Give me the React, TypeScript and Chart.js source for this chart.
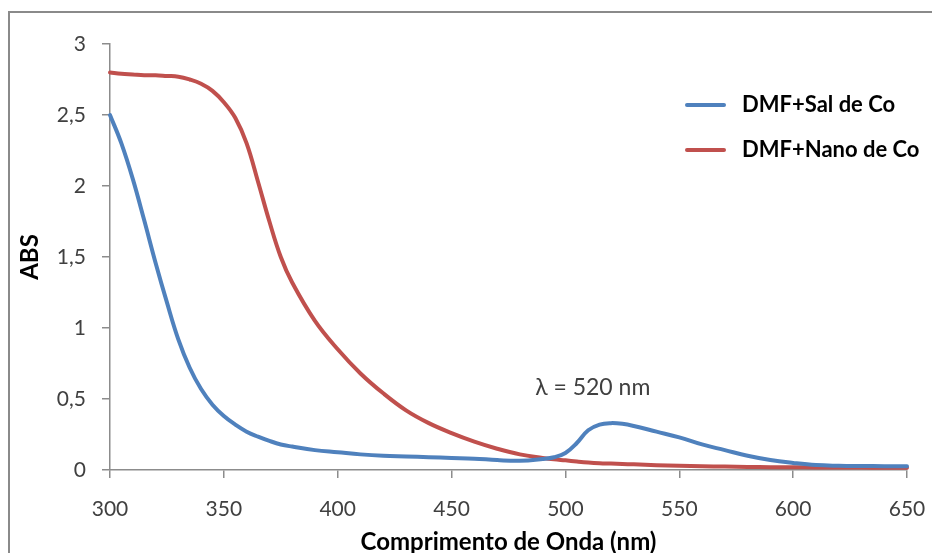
import React, { useEffect, useRef } from "react";
import { Chart, registerables } from "chart.js";

Chart.register(...registerables);

const wavelengths = [300, 305, 310, 315, 320, 325, 330, 335, 340, 345, 350, 355, 360, 365, 370, 375, 380, 390, 400, 410, 420, 430, 440, 450, 460, 470, 480, 490, 495, 500, 505, 510, 515, 520, 525, 530, 540, 550, 560, 570, 580, 590, 600, 610, 620, 630, 640, 650];

const salValues = [2.5, 2.3, 2.05, 1.76, 1.46, 1.18, 0.92, 0.72, 0.57, 0.46, 0.38, 0.32, 0.27, 0.235, 0.205, 0.18, 0.165, 0.14, 0.125, 0.11, 0.1, 0.095, 0.09, 0.085, 0.08, 0.07, 0.065, 0.078, 0.09, 0.12, 0.19, 0.28, 0.32, 0.33, 0.325, 0.31, 0.27, 0.23, 0.18, 0.14, 0.1, 0.07, 0.05, 0.035, 0.03, 0.028, 0.027, 0.026];

const nanoValues = [2.8, 2.79, 2.785, 2.78, 2.78, 2.775, 2.77, 2.75, 2.72, 2.67, 2.59, 2.48, 2.3, 2.03, 1.75, 1.5, 1.32, 1.05, 0.85, 0.68, 0.54, 0.42, 0.33, 0.26, 0.2, 0.15, 0.11, 0.085, 0.075, 0.068, 0.06, 0.053, 0.048, 0.045, 0.042, 0.04, 0.034, 0.03, 0.027, 0.024, 0.022, 0.02, 0.019, 0.018, 0.017, 0.017, 0.016, 0.016];

const seriesNames = ["DMF+Sal de Co", "DMF+Nano de Co"];
const seriesColors = ["#4f81bd", "#c0504d"];

const yTickLabels = ["0", "0,5", "1", "1,5", "2", "2,5", "3"];
const xTitle = "Comprimento de Onda (nm)";
const yTitle = "ABS";

const annotationText = "λ = 520 nm";
const annotationX = 512;
const annotationY = 0.58;

const FONT = "Lato, 'Open Sans', sans-serif";

const framePlugin = {
  id: "frame",
  beforeDraw(chart: any) {
    const ctx = chart.ctx;
    ctx.save();
    ctx.fillStyle = "#ffffff";
    ctx.fillRect(0, 0, chart.width, chart.height);
    ctx.strokeStyle = "#8a8a8a";
    ctx.lineWidth = 2;
    ctx.strokeRect(9, 12, chart.width + 20, chart.height + 20);
    ctx.restore();
  },
  afterDraw(chart: any) {
    const ctx = chart.ctx;
    ctx.save();
    chart.data.datasets.forEach((ds: any, i: number) => {
      const y = 105 + i * 45;
      ctx.strokeStyle = ds.borderColor;
      ctx.lineWidth = 4;
      ctx.lineCap = "round";
      ctx.beginPath();
      ctx.moveTo(687, y);
      ctx.lineTo(724, y);
      ctx.stroke();
      ctx.fillStyle = "#000000";
      ctx.font = `bold 22px ${FONT}`;
      ctx.textAlign = "left";
      ctx.textBaseline = "middle";
      ctx.fillText(ds.label, 742, y);
    });
    const xs = chart.scales.x;
    const ys = chart.scales.y;
    ctx.fillStyle = "#404040";
    ctx.font = `23px ${FONT}`;
    ctx.textAlign = "center";
    ctx.textBaseline = "middle";
    ctx.fillText(annotationText, xs.getPixelForValue(annotationX), ys.getPixelForValue(annotationY));
    ctx.restore();
  },
};

export default function App() {
  const ref = useRef<HTMLCanvasElement | null>(null);

  useEffect(() => {
    if (!ref.current) return;
    const chart = new Chart(ref.current, {
      type: "line",
      data: {
        datasets: [salValues, nanoValues].map((vals, i) => ({
          label: seriesNames[i],
          data: wavelengths.map((w, j) => ({ x: w, y: vals[j] })),
          borderColor: seriesColors[i],
          backgroundColor: seriesColors[i],
          borderWidth: 4,
          pointRadius: 0,
          tension: 0.4,
          borderCapStyle: "round" as const,
          clip: false as any,
        })),
      },
      plugins: [framePlugin],
      options: {
        animation: false,
        responsive: false,
        maintainAspectRatio: false,
        layout: { padding: { left: 0, right: 25, top: 44, bottom: 0 } },
        plugins: {
          legend: { display: false },
          tooltip: { enabled: false },
        },
        scales: {
          x: {
            type: "linear",
            min: 300,
            max: 650,
            afterFit: (s: any) => {
              s.height = 83;
              s.paddingLeft = 0;
              s.paddingRight = 0;
            },
            ticks: {
              stepSize: 50,
              color: "#404040",
              padding: 19,
              font: { family: FONT, size: 21 },
              maxRotation: 0,
            },
            grid: { drawOnChartArea: false, drawTicks: true, tickLength: 8, color: "#8c8c8c", lineWidth: 1.5 },
            border: { display: true, color: "#8c8c8c", width: 1.5 },
            title: {
              display: true,
              text: xTitle,
              color: "#000000",
              font: { family: FONT, size: 24, weight: "bold", lineHeight: 1 },
              padding: { top: 0, bottom: -1 },
            },
          },
          y: {
            type: "linear",
            min: 0,
            max: 3,
            afterFit: (s: any) => {
              s.width = 110;
              s.paddingTop = 0;
              s.paddingBottom = 0;
            },
            ticks: {
              stepSize: 0.5,
              color: "#404040",
              padding: 16,
              font: { family: FONT, size: 21 },
              callback: (_v: any, idx: number) => yTickLabels[idx],
            },
            grid: { drawOnChartArea: false, drawTicks: true, tickLength: 8, color: "#8c8c8c", lineWidth: 1.5 },
            border: { display: true, color: "#8c8c8c", width: 1.5 },
            title: {
              display: true,
              text: yTitle,
              color: "#000000",
              font: { family: FONT, size: 24, weight: "bold", lineHeight: 1.2 },
              padding: { top: 16, bottom: 0 },
            },
          },
        },
      },
    });
    return () => chart.destroy();
  }, []);

  return (
    <div style={{ position: "fixed", left: 0, top: 0, width: 932, height: 553 }}>
      <canvas ref={ref} width={932} height={553} style={{ display: "block" }} />
    </div>
  );
}
